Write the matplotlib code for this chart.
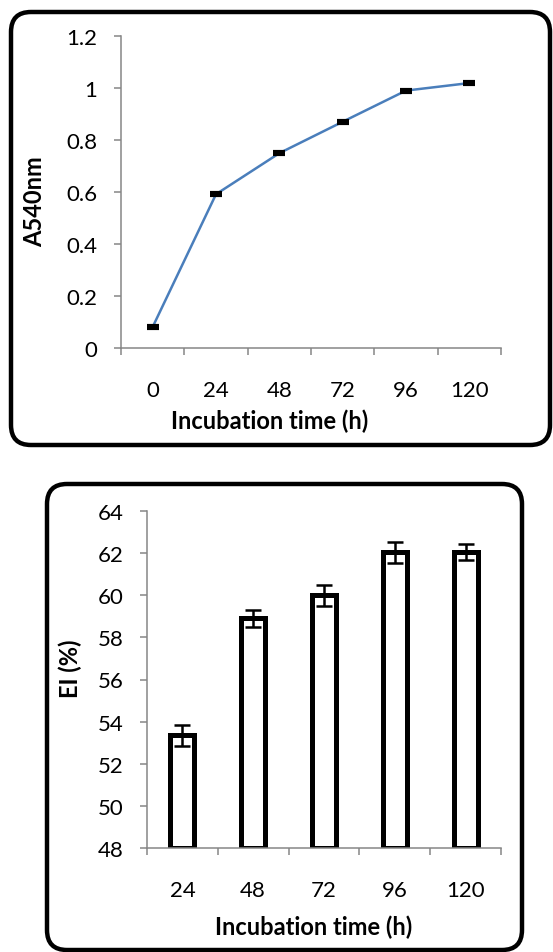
import matplotlib
matplotlib.use('Agg')
import matplotlib.pyplot as plt
from matplotlib.patches import FancyBboxPatch
import numpy as np

plt.rcParams['font.family'] = ['Lato', 'DejaVu Sans']

# growth curve (top)
hours_top = ['0', '24', '48', '72', '96', '120']
absorb = [0.081, 0.592, 0.75, 0.871, 0.991, 1.02]
absorb_err = [0.004, 0.004, 0.004, 0.004, 0.004, 0.004]

# emulsification index (bottom)
hours_bot = ['24', '48', '72', '96', '120']
ei = [53.35, 58.9, 60.0, 62.05, 62.05]
ei_err = [0.5, 0.4, 0.5, 0.5, 0.4]
ei_floor = 48

W, H = 553, 953
fig = plt.figure(figsize=(W / 100, H / 100), dpi=100)

gray = '#868686'
fs_tick = 16
fs_lab = 17


def px_axes(x0, x1, y0, y1):
    # pixel box (top-left origin) -> figure fraction
    return fig.add_axes([x0 / W, 1 - y1 / H, (x1 - x0) / W, (y1 - y0) / H])


def style(ax, n):
    for s in ['top', 'right']:
        ax.spines[s].set_visible(False)
    for s in ['left', 'bottom']:
        ax.spines[s].set_color(gray)
        ax.spines[s].set_linewidth(1.1)
    ax.set_xlim(-0.5, n - 0.5)
    ax.set_xticks(np.arange(n))
    ax.set_xticks(np.arange(n + 1) - 0.5, minor=True)
    ax.tick_params(axis='x', which='major', length=0, pad=23,
                   labelsize=fs_tick)
    ax.tick_params(axis='x', which='minor', length=5, width=1.1, color=gray,
                   direction='out')
    ax.tick_params(axis='y', length=5, width=1.1, color=gray, pad=12,
                   labelsize=fs_tick)


def rounded_box(x0, x1, y0, y1):
    box = FancyBboxPatch((x0 / 100, (H - y1) / 100), (x1 - x0) / 100,
                         (y1 - y0) / 100,
                         boxstyle='round,pad=0,rounding_size=0.2',
                         transform=fig.dpi_scale_trans, fill=False,
                         edgecolor='black', linewidth=3.2, zorder=10)
    fig.patches.append(box)


# ---- top panel
ax1 = px_axes(121, 501, 37.3, 349)
x = np.arange(len(hours_top))
ax1.plot(x, absorb, color='#4a7ebb', linewidth=1.8, zorder=2)
ax1.errorbar(x, absorb, yerr=absorb_err, fmt='none', ecolor='black',
             elinewidth=3, capsize=4, capthick=3, zorder=3)
style(ax1, len(hours_top))
ax1.set_xticklabels(hours_top)
ax1.set_ylim(0, 1.2)
ax1.set_yticks(np.arange(0, 1.21, 0.2))
ax1.set_yticklabels(['0', '0.2', '0.4', '0.6', '0.8', '1', '1.2'])
ax1.set_xlabel('Incubation time (h)', fontsize=fs_lab, fontweight='bold')
ax1.xaxis.set_label_coords((270 - 121) / 380, (349 - 421) / 311.7)
ax1.xaxis.label.set_va('center')
ax1.set_ylabel('A540nm', fontsize=fs_lab, fontweight='bold')
ax1.yaxis.set_label_coords((35 - 121) / 380, (349 - 202) / 311.7)
ax1.yaxis.label.set_va('center')
rounded_box(11, 550, 13, 446)

# ---- bottom panel
ax2 = px_axes(147, 501, 512, 849)
x2 = np.arange(len(hours_bot))
heights = [v - ei_floor for v in ei]
ax2.bar(x2, heights, width=0.34, bottom=ei_floor, facecolor='white',
        edgecolor='black', linewidth=3.6, zorder=2)
ax2.errorbar(x2, ei, yerr=ei_err, fmt='none', ecolor='black',
             elinewidth=1.8, capsize=5.5, capthick=1.8, zorder=3)
style(ax2, len(hours_bot))
ax2.set_xticklabels(hours_bot)
ax2.set_ylim(48, 64)
ax2.set_yticks(np.arange(48, 65, 2))
ax2.set_xlabel('Incubation time (h)', fontsize=fs_lab, fontweight='bold')
ax2.xaxis.set_label_coords((314 - 147) / 354, (849 - 927) / 337)
ax2.xaxis.label.set_va('center')
ax2.set_ylabel('EI (%)', fontsize=fs_lab, fontweight='bold')
ax2.yaxis.set_label_coords((70 - 147) / 354, (849 - 669) / 337)
ax2.yaxis.label.set_va('center')
rounded_box(47, 522, 485, 951)

fig.savefig('out.png', dpi=100)
